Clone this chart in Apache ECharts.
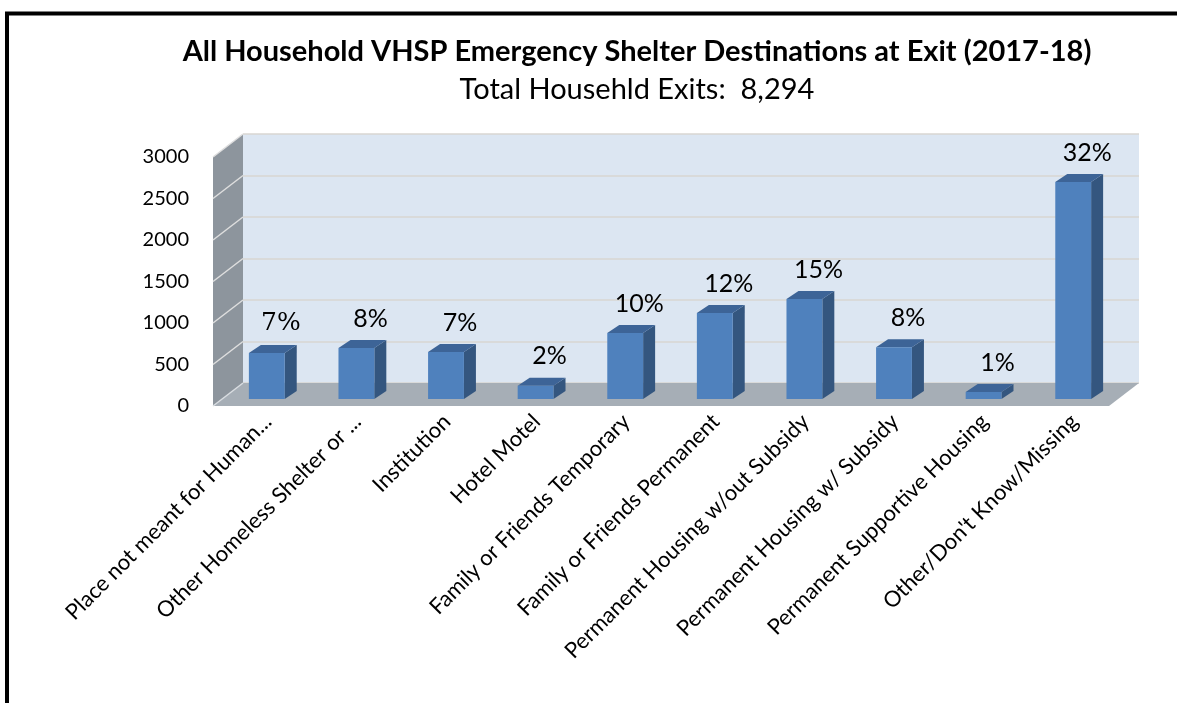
<!DOCTYPE html>
<html>
<head>
<meta charset="utf-8">
<script src="https://cdn.jsdelivr.net/npm/echarts@6/dist/echarts.min.js"></script>
<style>
  html, body { margin: 0; padding: 0; background: #fff; }
  #chart { width: 1177px; height: 703px; }
</style>
</head>
<body>
<div id="chart"></div>
<script>
// chart data
var categories = [
  "Place not meant for Human...",
  "Other Homeless Shelter or ...",
  "Institution",
  "Hotel Motel",
  "Family or Friends Temporary",
  "Family or Friends Permanent",
  "Permanent Housing w/out Subsidy",
  "Permanent Housing w/ Subsidy",
  "Permanent Supportive Housing",
  "Other/Don't Know/Missing"
];
var exits = [555, 615, 565, 160, 795, 1035, 1205, 625, 85, 2615];
var percentLabels = ["7%", "8%", "7%", "2%", "10%", "12%", "15%", "8%", "1%", "32%"];
var yTicks = [0, 500, 1000, 1500, 2000, 2500, 3000];

var titleText = "All Household VHSP Emergency Shelter Destinations at Exit (2017-18)";
var subText = "Total Househld Exits:  8,294";

var FONT = "Lato, 'Open Sans', sans-serif";
// depth of the 3d box (back wall -> front edge)
var DX = -30, DY = 23;

var chart = echarts.init(document.getElementById("chart"));

function wallItem(params, api) {
  var cs = params.coordSys;
  var x0 = cs.x, y0 = cs.y, w = cs.width, h = cs.height;
  var children = [];
  // side wall
  children.push({
    type: "polygon",
    shape: { points: [[x0, y0], [x0, y0 + h], [x0 + DX, y0 + h + DY], [x0 + DX, y0 + DY]] },
    style: { fill: "#8d959d" }
  });
  // grid lines on side wall
  yTicks.forEach(function (t) {
    if (t === 0) return;
    var yy = api.coord([0, t])[1];
    children.push({
      type: "line",
      shape: { x1: x0, y1: yy, x2: x0 + DX, y2: yy + DY },
      style: { stroke: "#dedede", lineWidth: 1.5 }
    });
  });
  // floor
  children.push({
    type: "polygon",
    shape: { points: [[x0, y0 + h], [x0 + w, y0 + h], [x0 + w + DX, y0 + h + DY], [x0 + DX, y0 + h + DY]] },
    style: { fill: "#a6aeb6" }
  });
  children.push({
    type: "line",
    shape: { x1: x0, y1: y0 + h, x2: x0 + DX, y2: y0 + h + DY },
    style: { stroke: "#d8dce0", lineWidth: 1.5 }
  });
  return { type: "group", children: children };
}

function barItem(params, api) {
  var i = api.value(0);
  var v = api.value(1);
  var top = api.coord([i, v]);
  var base = api.coord([i, 0]);
  var hw = api.size([1, 0])[0] * 0.2;
  var fx = -21, fy = 16;   // front face offset
  var bx = -9, by = 8;     // back face offset
  var L = top[0] - hw, R = top[0] + hw;
  var ft = top[1] + fy, fb = base[1] + fy;
  var bt = top[1] + by, bb = base[1] + by;
  var label = percentLabels[params.dataIndex];
  var serif = params.dataIndex === 0;
  return {
    type: "group",
    children: [
      {
        type: "polygon",
        shape: { points: [[R + fx, ft], [R + bx, bt], [R + bx, bb], [R + fx, fb]] },
        style: { fill: "#34567f" }
      },
      {
        type: "polygon",
        shape: { points: [[L + fx, ft], [L + bx, bt], [R + bx, bt], [R + fx, ft]] },
        style: { fill: "#3d6497" }
      },
      {
        type: "rect",
        shape: { x: L + fx, y: ft, width: R - L, height: fb - ft },
        style: { fill: "#4f81bd" }
      },
      {
        type: "text",
        x: top[0] - 7,
        y: top[1] - 1,
        style: {
          text: label,
          fill: "#000",
          font: serif ? "25px 'DejaVu Serif', serif" : "25px " + FONT,
          align: "center",
          verticalAlign: "bottom"
        }
      }
    ]
  };
}

var option = {
  animation: false,
  backgroundColor: "#fff",
  title: [
    {
      text: titleText,
      left: 632, top: 32, textAlign: "center",
      textStyle: { fontFamily: FONT, fontWeight: "bold", fontSize: 29, color: "#000" }
    },
    {
      text: subText,
      left: 632, top: 70, textAlign: "center",
      textStyle: { fontFamily: FONT, fontWeight: "normal", fontSize: 29, color: "#000" }
    }
  ],
  graphic: [
    {
      type: "polyline",
      shape: { points: [[7, 703], [7, 13.5], [1177, 13.5]] },
      style: { stroke: "#000", lineWidth: 4, fill: null }
    }
  ],
  grid: [
    // back wall
    { left: 243, right: 38, top: 134, bottom: 320, show: true, backgroundColor: "#dce6f2", borderWidth: 0 },
    // front plane (shifted a little right), carries the labels
    { left: 223, right: 58, top: 157, bottom: 297 }
  ],
  xAxis: [
    {
      gridIndex: 0, type: "category", data: categories,
      axisLine: { show: false }, axisTick: { show: false }, axisLabel: { show: false }
    },
    {
      gridIndex: 1, type: "category", data: categories,
      axisLine: { show: false }, axisTick: { show: false },
      axisLabel: {
        interval: 0, rotate: 45, margin: 12,
        fontFamily: FONT, fontSize: 22, color: "#000"
      }
    }
  ],
  yAxis: [
    {
      gridIndex: 0, type: "value", min: 0, max: 3000, interval: 500,
      axisLine: { show: false }, axisTick: { show: false }, axisLabel: { show: false },
      splitLine: { lineStyle: { color: "#d9d6d2", width: 1.5 } }
    },
    {
      gridIndex: 1, type: "value", min: 0, max: 3000, interval: 500,
      axisLine: { show: false }, axisTick: { show: false }, splitLine: { show: false },
      axisLabel: {
        margin: 34, fontFamily: FONT, fontSize: 20, color: "#000",
        formatter: function (v) { return String(v); }
      }
    }
  ],
  series: [
    {
      type: "custom", xAxisIndex: 0, yAxisIndex: 0, z: 1,
      renderItem: wallItem, data: [[0, 0]], silent: true
    },
    {
      type: "custom", xAxisIndex: 0, yAxisIndex: 0, z: 2,
      renderItem: barItem,
      data: exits.map(function (v, i) { return [i, v]; })
    }
  ]
};

chart.setOption(option);
</script>
</body>
</html>
